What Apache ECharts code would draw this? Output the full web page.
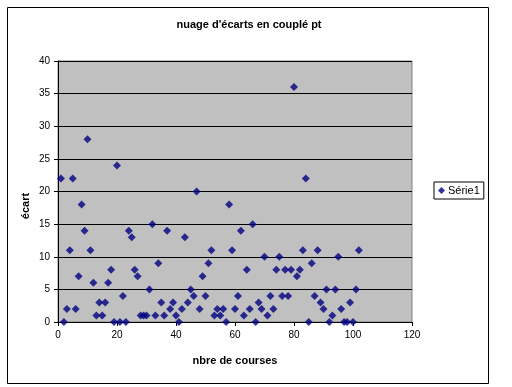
<!DOCTYPE html>
<html>
<head>
<meta charset="utf-8">
<script src="https://cdn.jsdelivr.net/npm/echarts@6/dist/echarts.min.js"></script>
<style>
html,body{margin:0;padding:0;background:#fff;}
#c{width:512px;height:387px;}
</style>
</head>
<body>
<div id="c"></div>
<script>
// Data: nombre de courses (x) and écart (y)
const courses = [];
for (let i = 1; i <= 102; i++) courses.push(i);
const ecarts = [22,0,2,11,22,2,7,18,14,28,
                11,6,1,3,1,3,6,8,0,24,
                0,4,0,14,13,8,7,1,1,1,
                5,15,1,9,3,1,14,2,3,1,
                0,2,13,3,5,4,20,2,7,4,
                9,11,1,2,1,2,0,18,11,2,
                4,14,1,8,2,15,0,3,2,10,
                1,4,2,8,10,4,8,4,8,36,
                7,8,11,22,0,9,4,11,3,2,
                5,0,1,5,10,2,0,0,3,0,
                5,11];
const xTicks = [0,20,40,60,80,100,120];
const yTicks = [0,5,10,15,20,25,30,35,40];
const seriesName = 'Série1';
const yName = 'écart';

const points = courses.map((c, i) => [c, ecarts[i]]);

const chart = echarts.init(document.getElementById('c'), null, {renderer: 'canvas'});
const font = 'Arial, "Liberation Sans", sans-serif';
chart.setOption({
  animation: false,
  backgroundColor: '#ffffff',
  title: {
    text: "nuage d'écarts en couplé pt",
    left: 244, top: 14, textAlign: 'center',
    textStyle: {fontFamily: font, fontSize: 11, fontWeight: 'bold', color: '#000'}
  },
  graphic: [{
    type: 'rect', left: 5, top: 5, silent: true,
    shape: {width: 481, height: 376},
    style: {fill: 'none', stroke: '#000', lineWidth: 1}
  }, {
    type: 'text', x: 26, y: 206, rotation: Math.PI / 2, silent: true,
    style: {text: yName, font: 'bold 11px ' + font, fill: '#000',
      textAlign: 'center', textVerticalAlign: 'middle'}
  }],
  legend: {
    left: 434, top: 182, orient: 'vertical',
    borderColor: '#000', borderWidth: 1, padding: [3, 4, 3, 4],
    itemWidth: 7, itemHeight: 7, itemGap: 2,
    icon: 'diamond',
    textStyle: {fontFamily: font, fontSize: 11, color: '#000', padding: [0,0,0,-2]},
    data: [seriesName]
  },
  grid: {
    left: 58, top: 61, width: 354, height: 261,
    show: true, backgroundColor: '#C0C0C0', borderColor: '#808080', borderWidth: 1
  },
  xAxis: {
    type: 'value', min: 0, max: 120, interval: 20,
    name: 'nbre de courses', nameLocation: 'middle', nameGap: 33,
    nameTextStyle: {fontFamily: font, fontSize: 11, fontWeight: 'bold', color: '#000'},
    axisLine: {show: true, onZero: false, lineStyle: {color: '#000', width: 1}},
    axisTick: {show: true, inside: false, length: 4, lineStyle: {color: '#000'}},
    axisLabel: {fontFamily: font, fontSize: 10, color: '#000', margin: 8,
      formatter: v => xTicks.includes(v) ? String(v) : ''},
    splitLine: {show: false}
  },
  yAxis: {
    type: 'value', min: 0, max: 40, interval: 5,
    axisLine: {show: true, lineStyle: {color: '#000', width: 1}},
    axisTick: {show: true, length: 4, lineStyle: {color: '#000'}},
    axisLabel: {fontFamily: font, fontSize: 10, color: '#000', margin: 8,
      formatter: v => yTicks.includes(v) ? String(v) : ''},
    splitLine: {show: true, lineStyle: {color: '#000', width: 1}}
  },
  series: [{
    name: seriesName,
    type: 'scatter',
    symbol: 'diamond',
    symbolSize: 8,
    itemStyle: {color: '#000080'},
    data: points
  }]
});
</script>
</body>
</html>
